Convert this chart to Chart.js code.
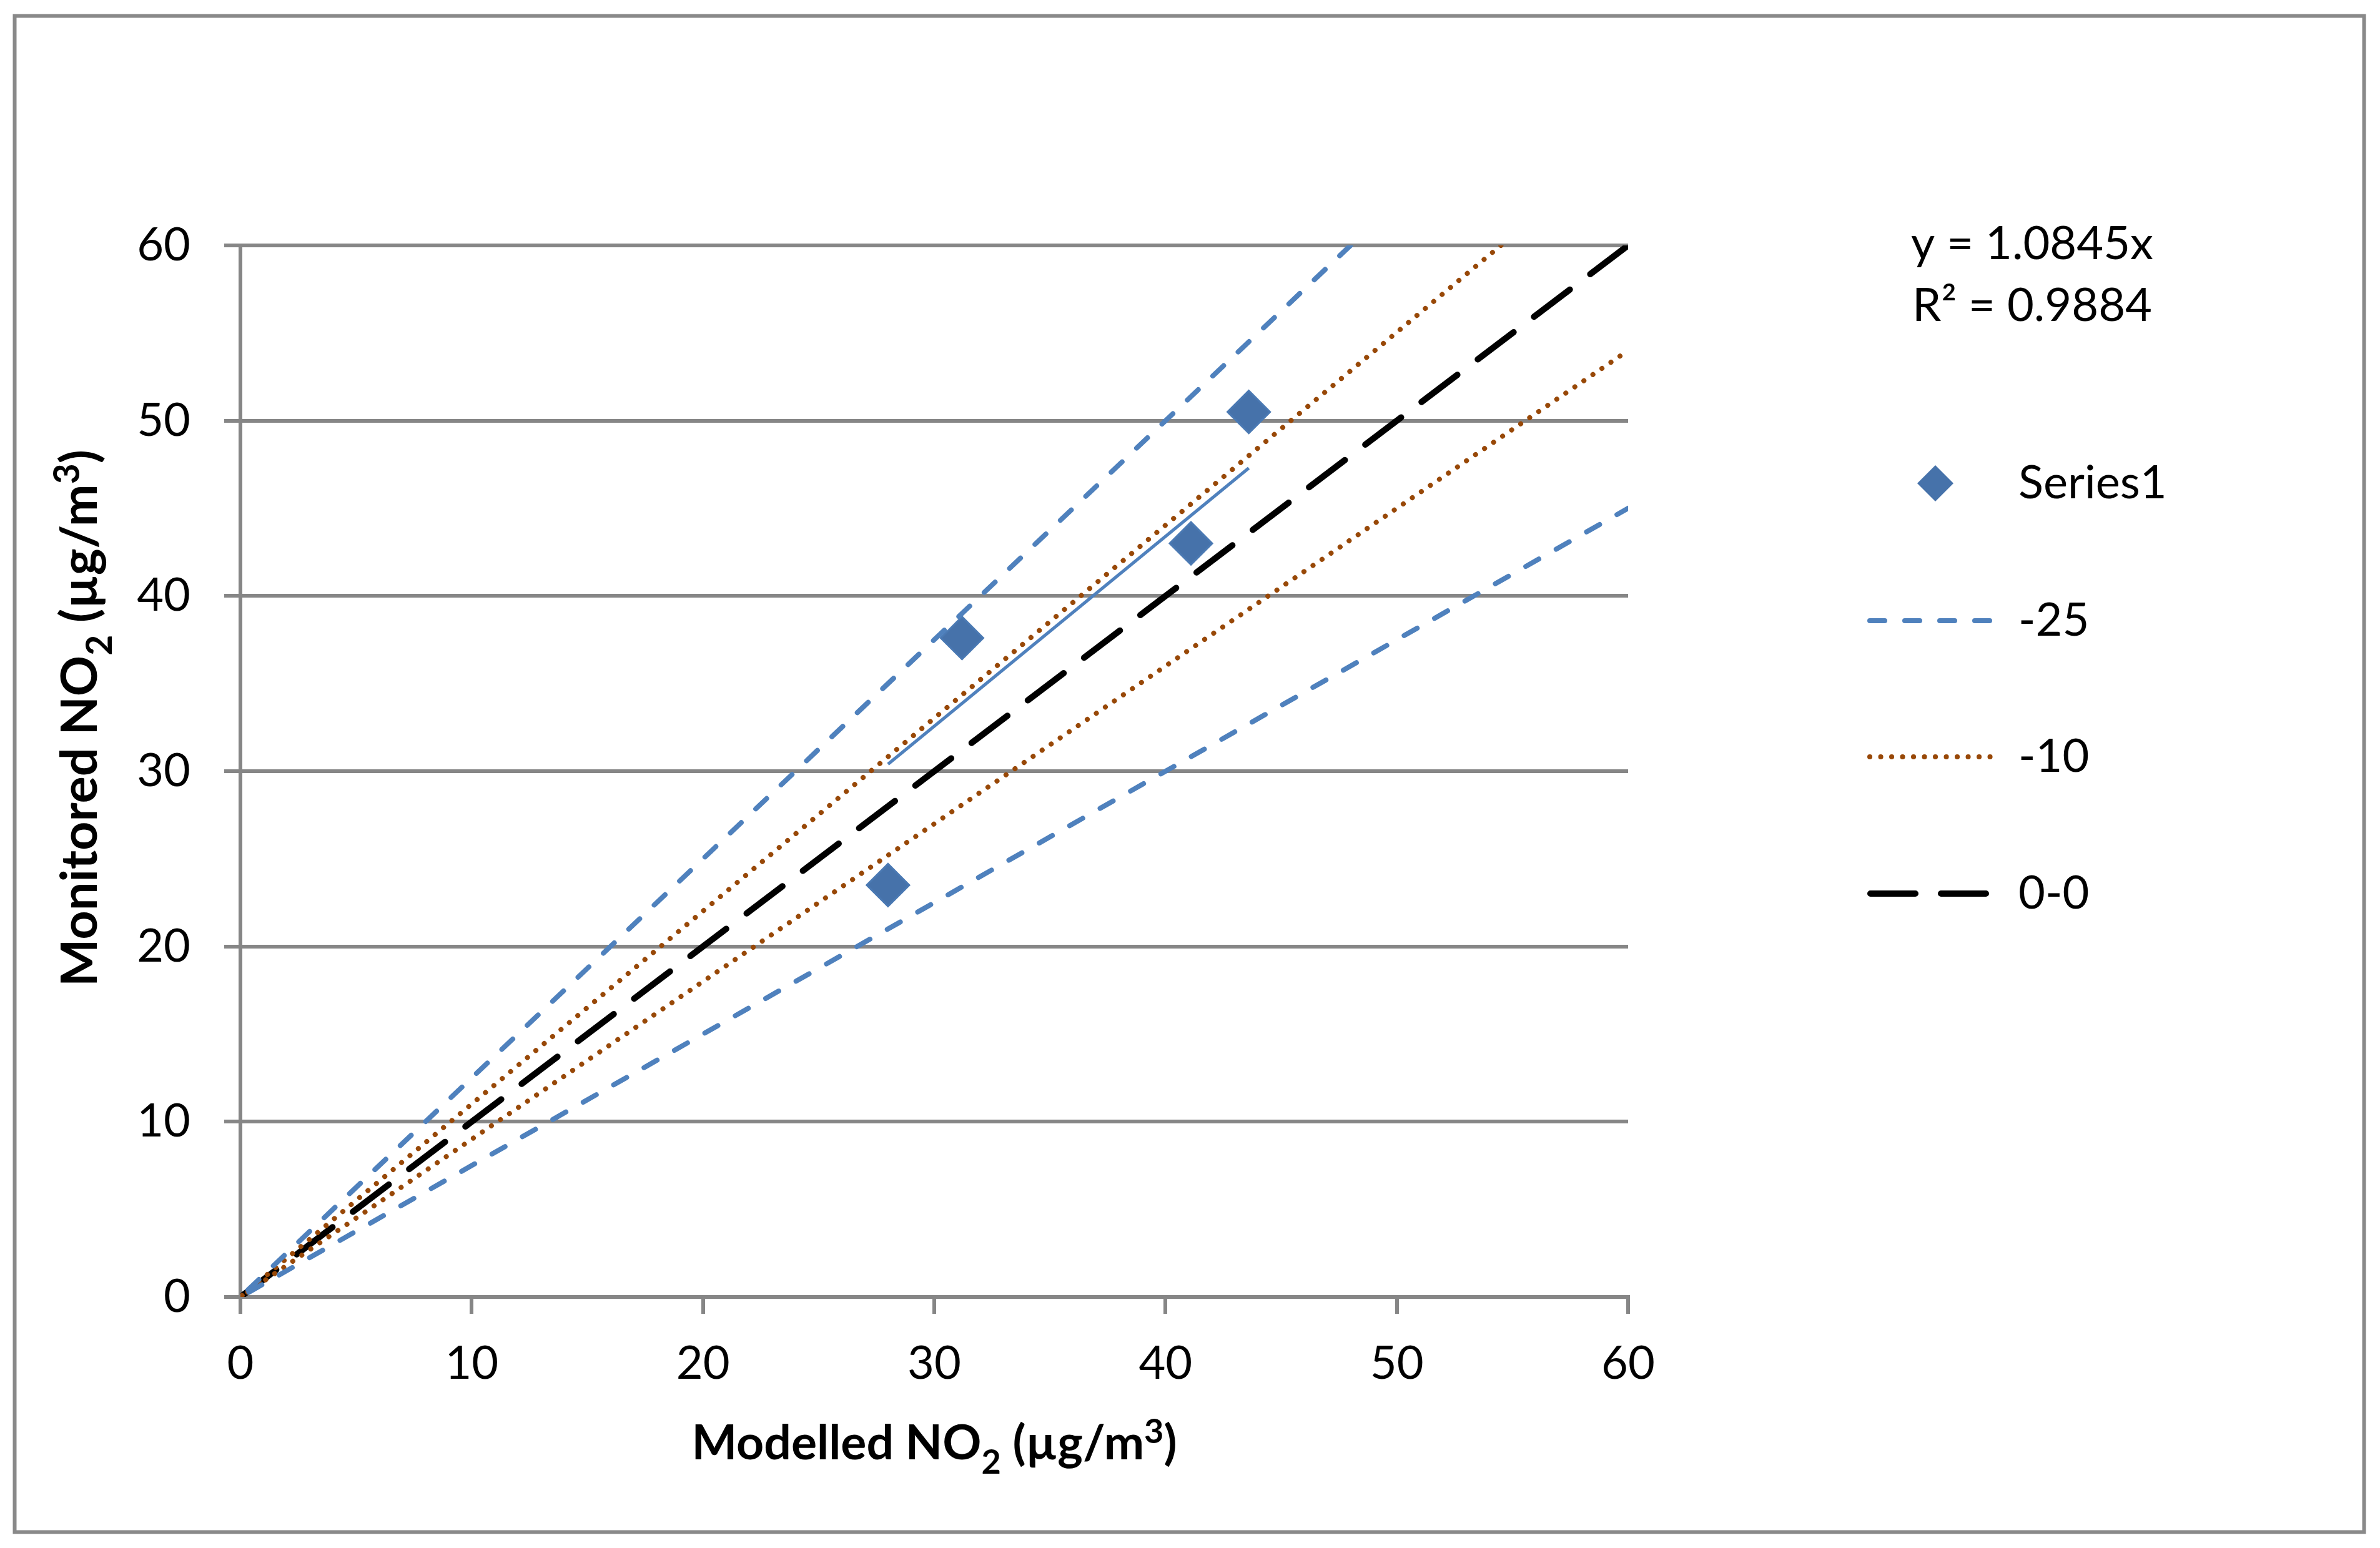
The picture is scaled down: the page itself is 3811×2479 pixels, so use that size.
<!DOCTYPE html>
<html>
<head>
<meta charset="utf-8">
<script src="https://cdn.jsdelivr.net/npm/chart.js@4.4.1/dist/chart.umd.min.js"></script>
<style>
  html, body { margin: 0; padding: 0; background: #fff; }
  canvas { display: block; }
</style>
</head>
<body>
<canvas id="chart" width="3811" height="2479" style="width:3811px;height:2479px"></canvas>
<script>
// values
const modelled = [28.0, 31.2, 41.1, 43.6];
const monitored = [23.5, 37.6, 43.0, 50.5];
const trendX = [28.0, 43.6];
const trendY = [30.4, 47.3];
const band25X = [48, 0, 60];
const band25Y = [60, 0, 45];
const band10X = [54.5, 0, 60];
const band10Y = [60, 0, 54];
const oneToOneX = [0, 60];
const oneToOneY = [0, 60];
const xTicks = [0, 10, 20, 30, 40, 50, 60];
const yTicks = [0, 10, 20, 30, 40, 50, 60];
const seriesNames = ["Series1", "-25", "-10", "0-0"];
const eqLines = ["y = 1.0845x", "R\u00b2 = 0.9884"];
const xTitle = [["Modelled NO", "n"], ["2", "sub"], [" (\u00b5g/m", "n"], ["3", "sup"], [")", "n"]];
const yTitle = [["Monitored NO", "n"], ["2", "sub"], [" (\u00b5g/m", "n"], ["3", "sup"], [")", "n"]];

const FONT = "Lato";
const GRID = "#868686";

function pts(xs, ys) {
  return xs.map((x, i) => ({ x: x, y: ys[i] }));
}

const lineStyles = {
  band25: { color: "#4F81BD", width: 8, dash: [24, 32] },
  band10: { color: "#984807", width: 8, dash: [0.1, 17.4] },
  oneToOne: { color: "#000000", width: 10, dash: [72, 41] }
};

function lineDataset(label, data, st) {
  return {
    label: label,
    data: data,
    showLine: true,
    borderColor: st.color,
    borderWidth: st.width,
    borderDash: st.dash,
    borderCapStyle: "round",
    borderJoinStyle: "round",
    pointRadius: 0,
    fill: false,
    order: 1
  };
}

function drawRich(ctx, parts, x, y, size, bold) {
  const fontFor = (k) => (bold ? "bold " : "") + (k === "n" ? size : Math.round(size * 0.7)) + "px " + FONT;
  let total = 0;
  parts.forEach(([t, k]) => { ctx.font = fontFor(k); total += ctx.measureText(t).width; });
  let cx = x - total / 2;
  ctx.textAlign = "left";
  ctx.textBaseline = "alphabetic";
  parts.forEach(([t, k]) => {
    ctx.font = fontFor(k);
    const dy = k === "sub" ? size * 0.3 : k === "sup" ? -size * 0.34 : 0;
    ctx.fillText(t, cx, y + dy);
    cx += ctx.measureText(t).width;
  });
}

const decor = {
  id: "decor",
  beforeDraw(chart) {
    const ctx = chart.ctx;
    ctx.save();
    ctx.fillStyle = "#fff";
    ctx.fillRect(0, 0, chart.width, chart.height);
    ctx.strokeStyle = "#898989";
    ctx.lineWidth = 6;
    ctx.strokeRect(23.5, 25.5, 3762, 2428);
    ctx.restore();
  },
  afterDraw(chart) {
    const ctx = chart.ctx;
    const area = chart.chartArea;
    ctx.save();
    ctx.fillStyle = "#000";

    // axis titles
    drawRich(ctx, xTitle, (area.left + area.right) / 2, 2337, 77, true);
    ctx.save();
    ctx.translate(155, 1150);
    ctx.rotate(-Math.PI / 2);
    drawRich(ctx, yTitle, 0, 0, 81, true);
    ctx.restore();

    // trendline equation
    ctx.font = "74px " + FONT;
    ctx.textAlign = "center";
    ctx.textBaseline = "alphabetic";
    ctx.fillText(eqLines[0], 3254, 415);
    ctx.fillText(eqLines[1], 3254, 514);

    // legend
    const rows = [774, 994, 1212, 1431];
    const x0 = 2990, x1 = 3199, tx = 3232;
    const ds = chart.data.datasets;
    ctx.fillStyle = ds[0].backgroundColor;
    ctx.beginPath();
    ctx.moveTo(3099, rows[0] - 29);
    ctx.lineTo(3099 + 29, rows[0]);
    ctx.lineTo(3099, rows[0] + 29);
    ctx.lineTo(3099 - 29, rows[0]);
    ctx.closePath();
    ctx.fill();
    [lineStyles.band25, lineStyles.band10, lineStyles.oneToOne].forEach((st, i) => {
      ctx.strokeStyle = st.color;
      ctx.lineWidth = st.width;
      ctx.lineCap = "round";
      ctx.setLineDash(st.dash);
      ctx.beginPath();
      ctx.moveTo(x0 + st.width / 2, rows[i + 1]);
      ctx.lineTo(x1, rows[i + 1]);
      ctx.stroke();
    });
    ctx.setLineDash([]);
    ctx.fillStyle = "#000";
    ctx.font = "74px " + FONT;
    ctx.textAlign = "left";
    ctx.textBaseline = "middle";
    seriesNames.forEach((name, i) => ctx.fillText(name, tx, rows[i]));
    ctx.restore();
  }
};

new Chart(document.getElementById("chart"), {
  type: "scatter",
  data: {
    datasets: [
      {
        label: seriesNames[0],
        data: pts(modelled, monitored),
        pointStyle: "rectRot",
        pointRadius: 34,
        pointHoverRadius: 34,
        backgroundColor: "#4672AA",
        borderColor: "#4A79B3",
        borderWidth: 3,
        showLine: false,
        order: 10
      },
      {
        label: "trend",
        data: pts(trendX, trendY),
        showLine: true,
        borderColor: "#4F81BD",
        borderWidth: 5,
        pointRadius: 0,
        order: 2
      },
      lineDataset(seriesNames[1], pts(band25X, band25Y), lineStyles.band25),
      lineDataset(seriesNames[2], pts(band10X, band10Y), lineStyles.band10),
      lineDataset(seriesNames[3], pts(oneToOneX, oneToOneY), lineStyles.oneToOne)
    ]
  },
  options: {
    responsive: false,
    animation: false,
    devicePixelRatio: 1,
    layout: { padding: { left: 0, top: 393, right: 3811 - 2607, bottom: 0 } },
    plugins: { legend: { display: false }, tooltip: { enabled: false } },
    scales: {
      x: {
        type: "linear",
        min: 0,
        max: 60,
        afterBuildTicks: (s) => { s.ticks = xTicks.map((v) => ({ value: v })); },
        afterFit: (s) => { s.height = 2479 - 2077; },
        border: { display: true, color: GRID, width: 6 },
        grid: { drawOnChartArea: false, drawTicks: true, tickLength: 27, color: GRID, lineWidth: 6 },
        ticks: { color: "#000", padding: 36, font: { family: FONT, size: 74, lineHeight: 1.2 } }
      },
      y: {
        type: "linear",
        min: 0,
        max: 60,
        afterBuildTicks: (s) => { s.ticks = yTicks.map((v) => ({ value: v })); },
        afterFit: (s) => { s.width = 385; },
        border: { display: true, color: GRID, width: 6 },
        grid: { drawOnChartArea: true, drawTicks: true, tickLength: 26, color: GRID, lineWidth: 6 },
        ticks: { color: "#000", padding: 54, font: { family: FONT, size: 74, lineHeight: 1.2 } }
      }
    }
  },
  plugins: [decor]
});
</script>
</body>
</html>
